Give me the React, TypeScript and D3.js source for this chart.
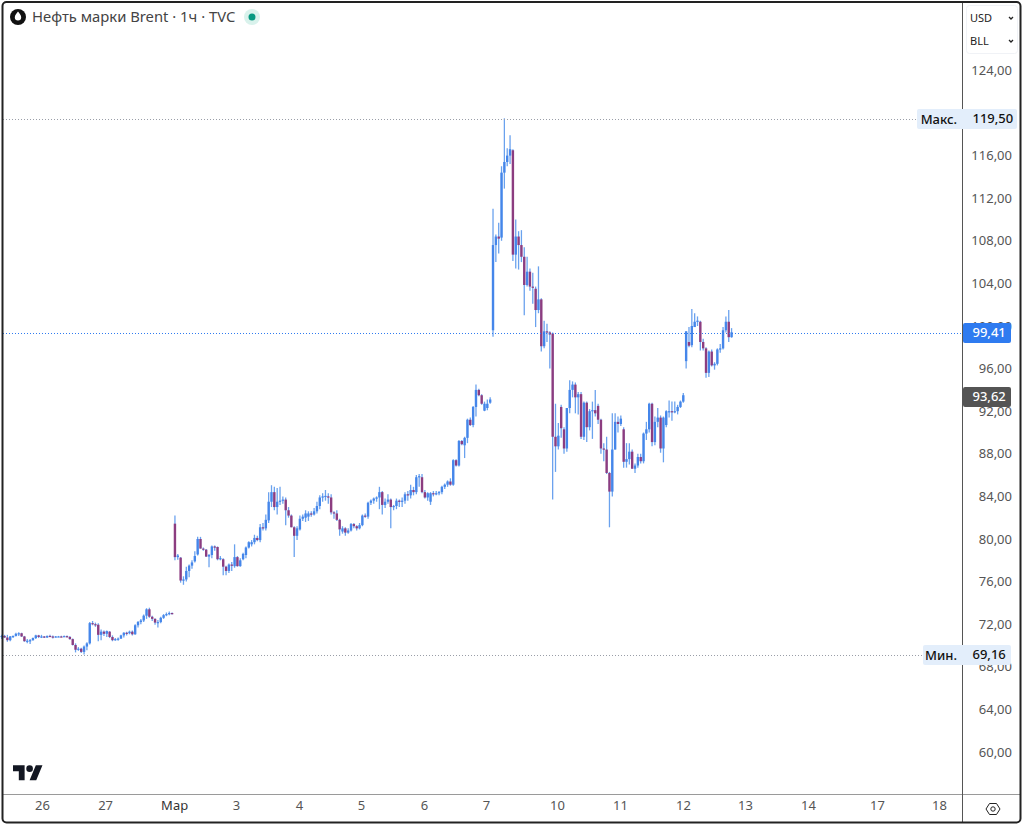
import { useEffect, useRef } from 'react'
import * as d3 from 'd3'

// [open, high, low, close], one hourly bar each
const sessionFeb: number[][] = [
  [70.8,71,70.6,70.9],[70.9,71,70.7,70.75],[70.75,71,70.35,70.5],[70.5,70.9,70.4,70.85],[70.85,70.95,70.7,70.9],
  [70.9,71.2,70.85,71.1],[71.1,71.25,70.9,71.15],[71.15,71.2,70.8,70.85],[70.85,70.9,70.35,70.4],[70.4,70.6,70.2,70.45],
  [70.45,70.6,70.15,70.5],[70.5,70.75,70.45,70.7],[70.7,71,70.6,70.95],[70.95,71,70.7,70.8],[70.8,71,70.7,70.85],
  [70.85,70.9,70.7,70.75],[70.75,70.95,70.7,70.9],[70.9,71,70.8,70.85],[70.85,70.95,70.65,70.8],[70.8,70.9,70.75,70.85],
  [70.85,70.9,70.8,70.85],[70.85,70.92,70.78,70.82],[70.82,70.95,70.8,70.88],[70.88,70.95,70.75,70.8],[70.8,70.9,70.55,70.6],
  [70.6,70.65,70,70.05],[70.05,70.2,69.35,69.6],[69.6,69.85,69.5,69.7],[69.7,69.8,69.3,69.4],[69.4,70,69.16,69.9],
  [69.9,70.3,69.55,70.2],[70.2,72.2,70.1,72.1],[72.1,72.3,71.9,72],[72,72.15,71.75,71.95],[71.95,72.1,70.4,71],
  [71,71.5,70.5,71.3],[71.3,71.4,70.9,71.1],[71.1,71.4,70.8,71.35],[71.3,71.35,70.7,70.8],[70.8,70.95,70.4,70.5],
  [70.5,70.7,70.45,70.6],[70.6,70.75,70.45,70.65],[70.65,71,70.6,70.95],[70.95,71.25,70.75,71.2],[71.2,71.3,70.95,71.15],
  [71.15,71.4,71.05,71.3],[71.3,71.4,70.95,71.05],[71.05,72,71,71.9],[71.9,72.3,71.7,72.2],[72.2,72.5,72,72.35],
  [72.35,72.9,72.2,72.8],[72.8,73.5,72.5,73.4],[73.4,73.55,72.6,72.7],[72.7,72.8,72.3,72.5],[72.5,72.55,71.95,72.15],
  [72.15,72.4,71.7,72.2],[72.2,72.7,72.1,72.6],[72.6,72.95,72.5,72.85],[72.85,73.1,72.75,72.95],[72.95,73.2,72.85,73.05],
  [73.05,73.1,72.9,73],
]

const sessionMar: number[][] = [
  [81.44,82.2,78,78.3],[78.3,78.6,78.05,78.45],[78.25,78.3,75.9,76.1],[76.1,76.5,75.7,76.2],[76.2,77.4,76,77],
  [77,77.6,76.4,77.5],[77.5,78,77.2,77.8],[77.9,78.85,77.8,78.4],[78.55,80.2,78.45,80],[80,80.2,79.1,79.1],
  [79.1,79.2,78.9,79],[79,79.05,78.3,78.35],[78.35,78.6,77.35,78.5],[78.5,79.4,78.2,79.3],[79.3,79.4,78.9,79.2],
  [79.25,79.3,78,78.1],[78.1,78.4,78,78.2],[78.1,78.2,76.6,77.4],[77.4,77.5,76.6,77],[77,77.7,76.8,77.6],
  [77.6,77.85,77,77.5],[77.45,79.5,77.3,78.3],[78.3,78.4,77.4,77.45],[77.45,78.2,77.4,78],[78.1,78.7,78,78.6],
  [78.5,79.3,78.2,79.2],[79.2,79.8,79.1,79.7],[79.5,79.9,79.3,79.7],[79.7,80.4,79.5,80.1],[80.1,80.3,79.8,79.9],
  [79.9,81.4,79.7,81.1],[81.1,81.5,80.8,81],[81,82.3,80.8,81.8],[81.75,84.4,81.5,83.5],[83.5,85.05,83,84.4],
  [84.4,84.9,82.7,83],[83,84.8,82.3,83.5],[83.5,84.9,83.2,83.6],[83.6,84,83.3,83.7],[83.7,83.9,81.3,82.7],
  [82.7,83,82,82.2],[82.2,82.3,81.1,81.1],[81.1,81.2,78.3,80.3],[80.3,81.2,79.9,81],[80.9,82.2,80.8,81.9],
  [81.9,82.3,81.7,82.1],[82,82.7,81.6,82.4],[82.1,82.6,81.7,82.4],[82.4,82.6,82.1,82.3],[82.3,82.9,82.2,82.6],
  [82.6,83.5,82.4,83.1],[83.1,84.1,82.8,83.9],[83.9,84.3,83.5,84],[84,84.6,83.6,84.05],[84,84.3,83.3,83.9],
  [83.9,84.2,82.3,82.5],[82.5,82.6,81.9,82.4],[82.4,82.7,81.7,81.8],[81.8,81.9,80.3,80.9],[80.7,81.2,80.5,81],
  [81,81.1,80.3,80.6],[80.6,81,80.5,80.8],[80.8,81.5,80.7,81.4],[81.4,81.5,81,81.2],[81.2,81.3,80.8,81],
  [81,81.5,80.9,81.3],[81.3,82.3,81.2,82.2],[82.2,82.4,82,82.1],[82.1,83.5,81.9,83.4],[83.4,83.7,83.2,83.6],
  [83.6,83.9,83.3,83.8],[83.8,84,83.5,83.9],[83.9,84.9,82.8,84.4],[84.4,84.5,82.3,83.2],[83.2,83.8,82.9,83.5],
  [83.5,84.2,83.3,83.7],[83.7,83.8,81,83],[83,83.2,82.7,83.1],[83.1,83.8,82.8,83.6],[83.6,83.7,83,83.5],
  [83.5,83.9,83,83.6],[83.6,84.4,83.3,84.2],[84.2,84.5,83.6,84.1],[84.1,85.1,83.8,84.6],[84.6,84.9,84.1,84.4],
  [84.4,86,84.2,85.8],[85.8,86.1,84.9,85.9],[85.8,86.1,84.3,84.4],[84.4,84.6,83.8,83.9],[83.9,84.4,83.6,84.3],
  [83.5,84.4,83.2,84.3],[84.3,84.5,84,84.2],[84.2,84.5,84.1,84.3],[84.3,84.5,84.1,84.4],[84.4,85,84.2,84.9],
  [84.9,85.2,84.7,85.1],[85.1,85.5,84.9,85.4],[85.4,85.7,85,85.1],[85.1,87.5,85,87.4],[87.4,87.5,86.8,86.9],
  [86.9,89.3,86.8,89.2],[89.2,89.3,88.8,88.9],[88.8,89.6,87.6,89.5],[89.5,91.3,89,91.2],[91.2,91.4,90.6,90.7],
  [90.7,92.5,90.5,92.4],[92.4,94.5,91.5,94],[94,94.1,93.4,93.5],[93.5,93.6,92.6,92.7],[92.05,92.9,92,92.7],
  [92.3,93.1,92.1,92.7],[92.8,93.3,92.7,93.1],
]

const sessionMar9: number[][] = [
  [99.6,111,99,107.6],[107.6,108.6,106,108.4],[108.4,109.7,106.8,108.2],[108.3,115,108,114.4],[114.4,119.5,112.9,115.4],
  [115.4,116.7,115,116],[116,117.9,115.2,116.6],[116.5,116.6,106.1,106.7],[106.7,110,105.4,108.4],[108.4,108.9,105.3,107.6],
  [107.6,109,106,106.5],[106.5,107.4,101,103.85],[103.85,106.5,103.7,105.1],[105.1,105.4,103.3,103.7],[103.7,105,102.1,103.6],
  [103.5,103.7,99.9,101.5],[101.5,105.6,101.2,102.5],[102.5,102.6,97.6,98.1],[98.1,100.5,97.9,99.5],[99.5,100.2,98.5,99.4],
  [99.4,99.5,96,99.2],[99.3,99.4,83.7,89.6],[89.6,92.7,86.3,88.7],[88.7,90.9,88.4,89.7],[92.4,92.6,89.5,90.4],
  [90.3,90.5,88,88.5],[88.5,92.3,88.2,92.3],[92.3,94.9,91.8,94],[94,94.8,93.3,94.5],[94.5,94.7,91.8,93.3],
  [93.3,93.8,91.7,93.6],[93.6,93.8,89.4,89.6],[89.6,92.9,89.3,92.8],[92.8,92.9,89.1,90.5],[90.5,92.2,90.2,92],
  [92,92.9,89.4,92.1],[92.1,94,91.5,91.8],[92.5,92.7,90.8,91.2],[91.2,91.3,88,88.5],[88.5,89,87.3,88.4],
  [88.4,89.6,86.1,86.2],[86.2,86.3,81.1,84.45],[84.45,91.8,84,88.4],[88.4,91.8,88.4,91],[91,91.5,90,90.8],
  [90.8,91.6,90.6,91.3],[90.3,90.5,86.7,87.25],[87.25,89,86.7,87.5],[87.5,89,87,88.2],[88.2,88.4,86.6,86.6],
  [86.6,87.1,86.2,86.9],[86.9,88,86.7,87.7],[87.7,88,87.1,87.3],[87.3,90,87.1,89.9],[89.9,91,89.3,90.3],
  [90.3,92.8,90,92.7],[92.7,92.8,88.7,89.1],[89.1,91.5,88.8,91],[91,92.3,90.5,91.4],[91.4,91.6,88.1,88.5],
  [88.5,91.5,87.2,91.4],[90.7,92.1,90.5,92],[92,93,91.4,92],[92,92.9,91.1,91.9],[91.95,92.9,91.8,92],
  [92,92.6,91.7,92.4],[92.4,93,92.3,92.9],[92.9,93.7,92.8,93.5],
]

const sessionMar12: number[][] = [
  [96.7,99.5,96,99.5],[98.5,99.9,98,98.15],[98.2,101.6,98,100],[99.9,101.2,99.9,100.4],[100.4,100.9,100,100.5],
  [100.4,100.5,97.7,98.5],[98.5,98.8,97.7,97.9],[97.9,98,95.15,95.6],[95.6,97.7,95.2,97.6],[97.6,97.8,96.2,96.3],
  [96.3,96.6,95.9,96.45],[96.45,97.9,96.3,97.8],[97.8,98.3,97.5,97.9],[97.9,99.9,97.8,99.6],[99.6,100.9,99.4,100.4],
  [100.4,101.5,98.5,98.95],[98.95,99.8,98.9,99.41],
]

const bars = [...sessionFeb, ...sessionMar, ...sessionMar9, ...sessionMar12]

const priceTicks = [60, 64, 68, 72, 76, 80, 84, 88, 92, 96, 100, 104, 108, 112, 116, 120, 124]
const timeLabels = ['26', '27', 'Мар', '3', '4', '5', '6', '7', '10', '11', '12', '13', '14', '17', '18']
const timeBars = [14.2, 36.4, 60.7, 82.5, 104.7, 126.5, 148.7, 170.5, 195.5, 217.7, 239.9, 261.7, 283.9, 308.2, 330]

const maxPrice = 119.5
const minPrice = 69.16
const lastPrice = 99.41
const bidPrice = 93.62

const title = 'Нефть марки Brent · 1ч · TVC'
const font = '"Noto Sans", sans-serif'

const fmt = (v: number) => v.toFixed(2).replace('.', ',')

export default function App() {
  const svgRef = useRef<SVGSVGElement>(null)

  useEffect(() => {
    if (!svgRef.current) return
    const svg = d3.select(svgRef.current)
    svg.selectAll('*').remove()
    svg.style('font-family', font)

    const x = d3.scaleLinear().domain([0, 330]).range([1.7, 938.9])
    const y = d3.scaleLinear().domain([60, 124]).range([752, 70.4])

    // the reference is a slightly soft screenshot
    svg.append('defs').append('filter')
      .attr('id', 'soft')
      .append('feGaussianBlur')
      .attr('stdDeviation', 0.35)

    // candles
    const candles = svg.append('g').attr('filter', 'url(#soft)')
    const candle = candles.selectAll('g').data(bars).join('g')
    candle.append('line')
      .attr('x1', (_, i) => x(i))
      .attr('x2', (_, i) => x(i))
      .attr('y1', d => y(d[1]))
      .attr('y2', d => y(d[2]))
      .attr('stroke', '#6ba2ee')
      .attr('stroke-width', 1.3)
    candle.append('rect')
      .attr('x', (_, i) => x(i) - 1.2)
      .attr('width', 2.4)
      .attr('y', d => y(Math.max(d[0], d[3])))
      .attr('height', d => Math.max(1.2, Math.abs(y(d[0]) - y(d[3]))))
      .attr('fill', d => (d[3] >= d[0] ? '#4486ea' : '#8c3c80'))

    // high, low and last price lines
    const priceLine = (p: number, x2: number, color: string) => {
      const ly = Math.round(y(p) + 0.5) + 0.5
      svg.append('line')
        .attr('x1', 3).attr('x2', x2)
        .attr('y1', ly).attr('y2', ly)
        .attr('stroke', color)
        .attr('stroke-dasharray', '1 2')
    }
    priceLine(maxPrice, 917, '#9a9ea8')
    priceLine(minPrice, 923, '#9a9ea8')
    priceLine(lastPrice, 962, '#2f7bf0')

    // price axis
    const yAxis = svg.append('g')
      .attr('transform', 'translate(1012,0)')
      .call(d3.axisRight(y).tickValues(priceTicks).tickFormat(d => fmt(d as number)).tickSize(0).tickPadding(0))
    yAxis.select('.domain').remove()
    yAxis.selectAll('text')
      .attr('text-anchor', 'end')
      .style('font-family', font)
      .style('font-size', '13px')
      .style('fill', '#555')

    // time axis
    const xAxis = svg.append('g')
      .attr('transform', 'translate(0,801)')
      .call(d3.axisBottom(x).tickValues(timeBars).tickFormat((_, i) => timeLabels[i]).tickSize(0).tickPadding(0))
    xAxis.select('.domain').remove()
    xAxis.selectAll('text')
      .style('font-family', font)
      .style('font-size', '13px')
      .style('fill', (_, i) => (timeLabels[i] === 'Мар' ? '#333' : '#555'))

    // frame and dividers
    svg.append('line').attr('x1', 3).attr('x2', 1020).attr('y1', 794.5).attr('y2', 794.5).attr('stroke', '#9a9a9a')
    svg.append('line').attr('x1', 962.5).attr('x2', 962.5).attr('y1', 3).attr('y2', 822).attr('stroke', '#555')
    svg.append('rect')
      .attr('x', 2.5).attr('y', 2).attr('width', 1018).attr('height', 820.5)
      .attr('rx', 4)
      .attr('fill', 'none')
      .attr('stroke', '#222')
      .attr('stroke-width', 2)

    // price labels
    const plate = (left: number, right: number, p: number, fill: string, value: string, color: string, side?: string) => {
      const top = Math.round(y(p)) - 9
      svg.append('rect')
        .attr('x', left).attr('y', top).attr('width', right - left).attr('height', 20)
        .attr('rx', 2).attr('fill', fill)
      svg.append('text')
        .attr('x', 972.5).attr('y', top + 14)
        .style('font-size', '13px')
        .style('font-weight', 500)
        .style('fill', color)
        .text(value)
      if (side) {
        svg.append('text')
          .attr('x', 957).attr('y', top + 15)
          .attr('text-anchor', 'end')
          .style('font-size', '13px')
          .style('font-weight', 500)
          .style('fill', '#111')
          .text(side)
      }
    }
    plate(917, 1017, maxPrice, '#e3eefb', fmt(maxPrice), '#111', 'Макс.')
    plate(923, 1011, minPrice, '#e3eefb', fmt(minPrice), '#111', 'Мин.')
    plate(963, 1011, lastPrice, '#2f7bf0', fmt(lastPrice), '#fff')
    plate(963, 1011, bidPrice - 0.15, '#545454', fmt(bidPrice), '#fff')

    // currency and unit buttons
    svg.append('rect')
      .attr('x', 966.5).attr('y', 5.5).attr('width', 51).attr('height', 48)
      .attr('rx', 3).attr('fill', '#fff').attr('stroke', '#f0f2f6')
    const button = (label: string, ty: number) => {
      svg.append('text')
        .attr('x', 970).attr('y', ty)
        .style('font-size', '11px')
        .style('fill', '#222')
        .text(label)
      svg.append('path')
        .attr('d', `M1009 ${ty - 5}l2 2l2 -2`)
        .attr('fill', 'none')
        .attr('stroke', '#222')
        .attr('stroke-width', 1.3)
    }
    button('USD', 22)
    button('BLL', 45)

    // title
    svg.append('circle').attr('cx', 18).attr('cy', 17).attr('r', 8).attr('fill', '#111')
    svg.append('path')
      .attr('d', 'M18 11.5c-1.6 2.2 -3.2 3.7 -3.2 5.7a3.2 3.2 0 0 0 6.4 0c0 -2 -1.6 -3.5 -3.2 -5.7z')
      .attr('fill', '#fff')
    svg.append('text')
      .attr('x', 32).attr('y', 22)
      .style('font-size', '14.8px')
      .style('fill', '#444')
      .text(title)
    svg.append('circle').attr('cx', 252).attr('cy', 17).attr('r', 8).attr('fill', '#d9f2ec')
    svg.append('circle').attr('cx', 252).attr('cy', 17).attr('r', 3.5).attr('fill', '#089981')

    // logo
    const logo = svg.append('g').attr('transform', 'translate(13,762) scale(0.83)').attr('fill', '#131722')
    logo.append('path').attr('d', 'M14 22H7V11H0V4h14v18zM28 22h-8l7.5-18h8L28 22z')
    logo.append('circle').attr('cx', 20).attr('cy', 8).attr('r', 4)

    // settings button
    const gear = svg.append('g').attr('transform', 'translate(993,809)').attr('fill', 'none').attr('stroke', '#222')
    gear.append('path').attr('d', 'M-7 0L-3.5 -5.5H3.5L7 0L3.5 5.5H-3.5Z').attr('stroke-linejoin', 'round')
    gear.append('circle').attr('r', 2.2)
  }, [])

  return (
    <svg
      ref={svgRef}
      width={1024}
      height={826}
      style={{ position: 'absolute', left: 0, top: 0, background: '#fff' }}
    />
  )
}
